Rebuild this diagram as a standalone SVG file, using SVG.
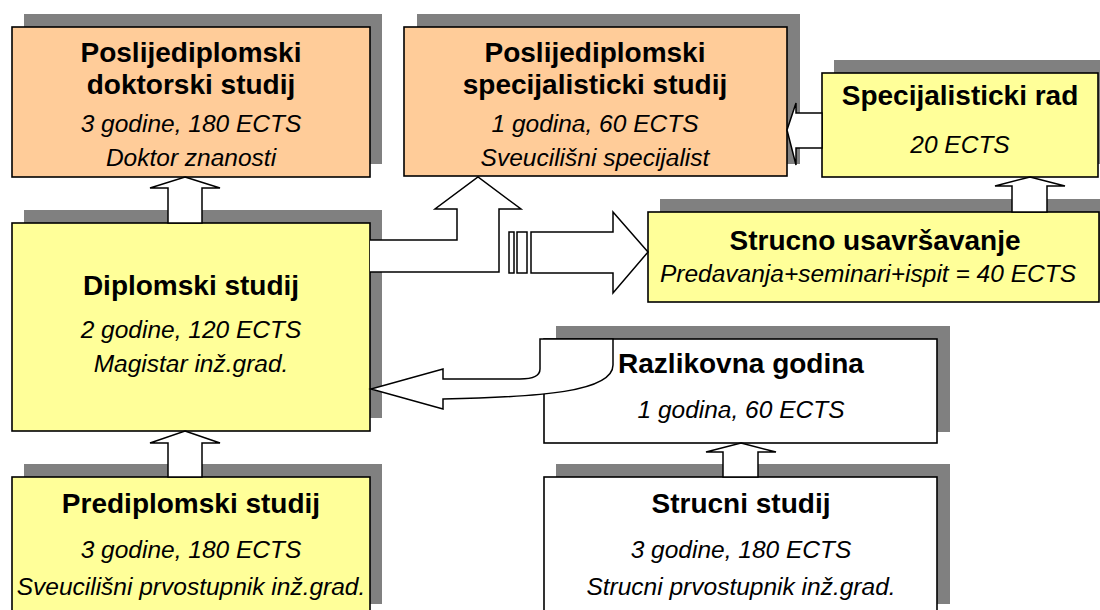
<svg xmlns="http://www.w3.org/2000/svg" width="1100" height="610" viewBox="0 0 1100 610">
<style>
.sh{fill:#808080}
.bx{stroke:#000;stroke-width:1.6}
.or{fill:#FFCC99}
.ye{fill:#FFFF99}
.wh{fill:#FFFFFF}
.t{font-family:"Liberation Sans",Arial,sans-serif;font-weight:bold;font-size:28px;text-anchor:middle;fill:#000}
.s{font-family:"Liberation Sans",Arial,sans-serif;font-style:italic;font-size:24.5px;text-anchor:middle;fill:#000}
.ar{fill:#fff;stroke:#000;stroke-width:1.5;stroke-linejoin:miter}
</style>
<rect width="1100" height="610" fill="#fff"/>
<g id="doktorski">
<rect class="sh" x="24" y="14" width="358" height="150"/>
<rect class="bx or" x="12" y="27" width="358" height="150"/>
<text class="t" x="191" y="62">Poslijediplomski</text>
<text class="t" x="191" y="94">doktorski studij</text>
<text class="s" x="191" y="132">3 godine, 180 ECTS</text>
<text class="s" x="191" y="166">Doktor znanosti</text>
</g>
<g id="specijalisticki-studij">
<rect class="sh" x="417" y="14" width="383" height="150"/>
<rect class="bx or" x="404" y="27" width="383" height="149"/>
<text class="t" x="595" y="62">Poslijediplomski</text>
<text class="t" x="595" y="94">specijalisticki studij</text>
<text class="s" x="595" y="132">1 godina, 60 ECTS</text>
<text class="s" x="595" y="166">Sveucilišni specijalist</text>
</g>
<g id="specijalisticki-rad">
<rect class="sh" x="834" y="60" width="280" height="104"/>
<rect class="bx ye" x="822" y="73" width="276" height="104"/>
<text class="t" x="960" y="105">Specijalisticki rad</text>
<text class="s" x="960" y="153">20 ECTS</text>
</g>
<g id="strucno-usavrsavanje">
<rect class="sh" x="660" y="199" width="460" height="91"/>
<rect class="bx ye" x="648" y="212" width="451" height="90"/>
<text class="t" x="875" y="250">Strucno usavršavanje</text>
<text class="s" x="868" y="282">Predavanja+seminari+ispit = 40 ECTS</text>
</g>
<g id="diplomski">
<rect class="sh" x="24" y="210" width="358" height="208"/>
<rect class="bx ye" x="12" y="223" width="358" height="208"/>
<text class="t" x="191" y="295">Diplomski studij</text>
<text class="s" x="191" y="338">2 godine, 120 ECTS</text>
<text class="s" x="191" y="372">Magistar inž.grad.</text>
</g>
<g id="razlikovna">
<rect class="sh" x="556" y="326" width="394" height="106"/>
<rect class="bx wh" x="544" y="339" width="393" height="104"/>
<text class="t" x="741" y="373">Razlikovna godina</text>
<text class="s" x="741" y="418">1 godina, 60 ECTS</text>
</g>
<g id="prediplomski">
<rect class="sh" x="24" y="464" width="358" height="140"/>
<rect class="bx ye" x="12" y="477" width="358" height="140"/>
<text class="t" x="191" y="513">Prediplomski studij</text>
<text class="s" x="191" y="558">3 godine, 180 ECTS</text>
<text class="s" x="191" y="595">Sveucilišni prvostupnik inž.grad.</text>
</g>
<g id="strucni">
<rect class="sh" x="556" y="464" width="394" height="140"/>
<rect class="bx wh" x="544" y="477" width="393" height="140"/>
<text class="t" x="741" y="513">Strucni studij</text>
<text class="s" x="741" y="558">3 godine, 180 ECTS</text>
<text class="s" x="741" y="595">Strucni prvostupnik inž.grad.</text>
</g>
<g id="connectors">
<polygon class="ar" points="185,177 220,188 202,188 202,223 168,223 168,188 150,188"/>
<polygon class="ar" points="185,431 220,443 202,443 202,477 168,477 168,443 150,443"/>
<polygon class="ar" points="741,443 776,452 758,452 758,477 723,477 723,452 706,452"/>
<polygon class="ar" points="1030,177 1065,186 1047,186 1047,212 1012,212 1012,186 995,186"/>
<polygon class="ar" points="787,130 796,103 796,113 822,113 822,148 796,148 796,165"/>
<path class="ar" d="M370,240 L457,240 L457,209 L435,209 L478,177 L521,209 L499,209 L499,272 L370,272"/>
<rect class="ar" x="509" y="232" width="5" height="41"/>
<rect class="ar" x="517" y="232" width="10" height="41"/>
<polygon class="ar" points="531,232 613,232 613,212 648,252 613,293 613,273 531,273"/>
<path class="ar" d="M540,339 L540,369 Q540,379 520,379 L443,379 L443,369 L371,389 L443,409 L443,399 C540,397 613,392 613,365 L613,339 Z"/>
</g>
</svg>
